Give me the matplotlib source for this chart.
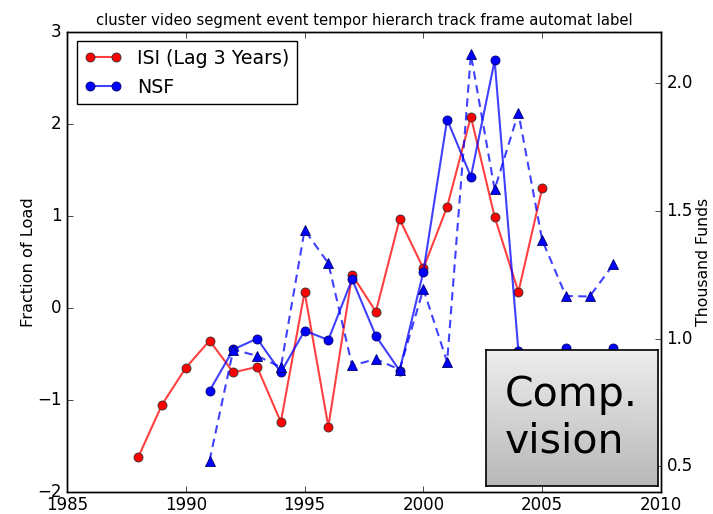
import numpy as np
import matplotlib
matplotlib.use('Agg')
import matplotlib.pyplot as plt
from matplotlib.ticker import ScalarFormatter

# red series: ISI (lag 3 years), left axis
isi_years = [1988, 1989, 1990, 1991, 1992, 1993, 1994, 1995, 1996, 1997,
             1998, 1999, 2000, 2001, 2002, 2003, 2004, 2005]
isi_load = [-1.62, -1.05, -0.65, -0.355, -0.70, -0.64, -1.24, 0.175, -1.29, 0.36,
            -0.04, 0.965, 0.43, 1.10, 2.08, 0.99, 0.175, 1.30]

# blue solid series: NSF, left axis (gaps hidden by the label box)
nsf_years = [1991, 1992, 1993, 1994, 1995, 1996, 1997, 1998, 1999, 2000,
             2001, 2002, 2003, 2004, 2005, 2006, 2007, 2008]
nsf_load = [-0.90, -0.45, -0.333, -0.70, -0.247, -0.347, 0.313, -0.304, -0.68, 0.395,
            2.048, 1.427, 2.69, -0.47, np.nan, -0.43, np.nan, -0.43]

# blue dashed series: NSF funds, right axis
fund_years = [1991, 1992, 1993, 1994, 1995, 1996, 1997, 1998, 1999, 2000,
              2001, 2002, 2003, 2004, 2005, 2006, 2007, 2008]
nsf_funds = [0.523, 0.957, 0.933, 0.888, 1.425, 1.295, 0.895, 0.920, 0.879, 1.194,
             0.909, 2.112, 1.584, 1.884, 1.386, 1.167, 1.165, 1.291]

title = 'cluster video segment event tempor hierarch track frame automat label'
box_text = 'Comp.\nvision'

plt.style.use('classic')
fig = plt.figure(figsize=(7.13, 5.14), dpi=100, facecolor='white')
ax1 = fig.add_axes([0.094, 0.0428, 0.833, 0.895])
ax2 = ax1.twinx()

l1, = ax1.plot(isi_years, isi_load, '-o', color=(1, 0, 0, 0.75), lw=1.5,
               mfc='red', mec='#333333', mew=0.6, ms=6.5, label='ISI (Lag 3 Years)')
l2, = ax1.plot(nsf_years, nsf_load, '-o', color=(0, 0, 1, 0.75), lw=1.5,
               mfc='blue', mec='#000066', mew=0.6, ms=6.5, label='NSF')
ax2.plot(fund_years, nsf_funds, '--^', color=(0, 0, 1, 0.75), lw=1.5,
         mfc='blue', mec='#000066', mew=0.6, ms=7, dashes=(6, 4))

ax1.set_xlim(1985, 2010)
ax1.set_ylim(-2, 3)
ax1.set_xticks(range(1985, 2011, 5))
ax1.xaxis.set_major_formatter(ScalarFormatter(useOffset=False))
ax1.set_yticks(range(-2, 4))
ax2.set_ylim(0.4, 2.2)
ax2.set_yticks([0.5, 1.0, 1.5, 2.0])
ax2.set_yticklabels(['0.5', '1.0', '1.5', '2.0'])

ax1.set_ylabel('Fraction of Load', fontsize=11.7, labelpad=1)
ax2.set_ylabel('Thousand Funds', fontsize=11.3, labelpad=2)
ax1.set_title(title, fontsize=10.6)
for ax in (ax1, ax2):
    ax.tick_params(labelsize=12)
ax1.tick_params(axis='x', pad=3)

ax1.legend(handles=[l1, l2], loc='upper left', fontsize=13.7, numpoints=2,
           fancybox=False, borderaxespad=0.5)

# label box with grey gradient
bx = fig.add_axes([0.6816, 0.0545, 0.2412, 0.2646])
grad = np.linspace(0.93, 0.72, 256).reshape(-1, 1)
bx.imshow(grad, aspect='auto', cmap='gray', vmin=0, vmax=1,
          extent=[0, 1, 0, 1], origin='upper')
bx.set_xlim(0, 1)
bx.set_ylim(0, 1)
bx.set_xticks([])
bx.set_yticks([])
for s in bx.spines.values():
    s.set_linewidth(1.2)
bx.text(0.11, 0.5, box_text, fontsize=29.5, ha='left', va='center',
        linespacing=1.2, transform=bx.transAxes)

fig.savefig('out.png', dpi=100, facecolor='white')
